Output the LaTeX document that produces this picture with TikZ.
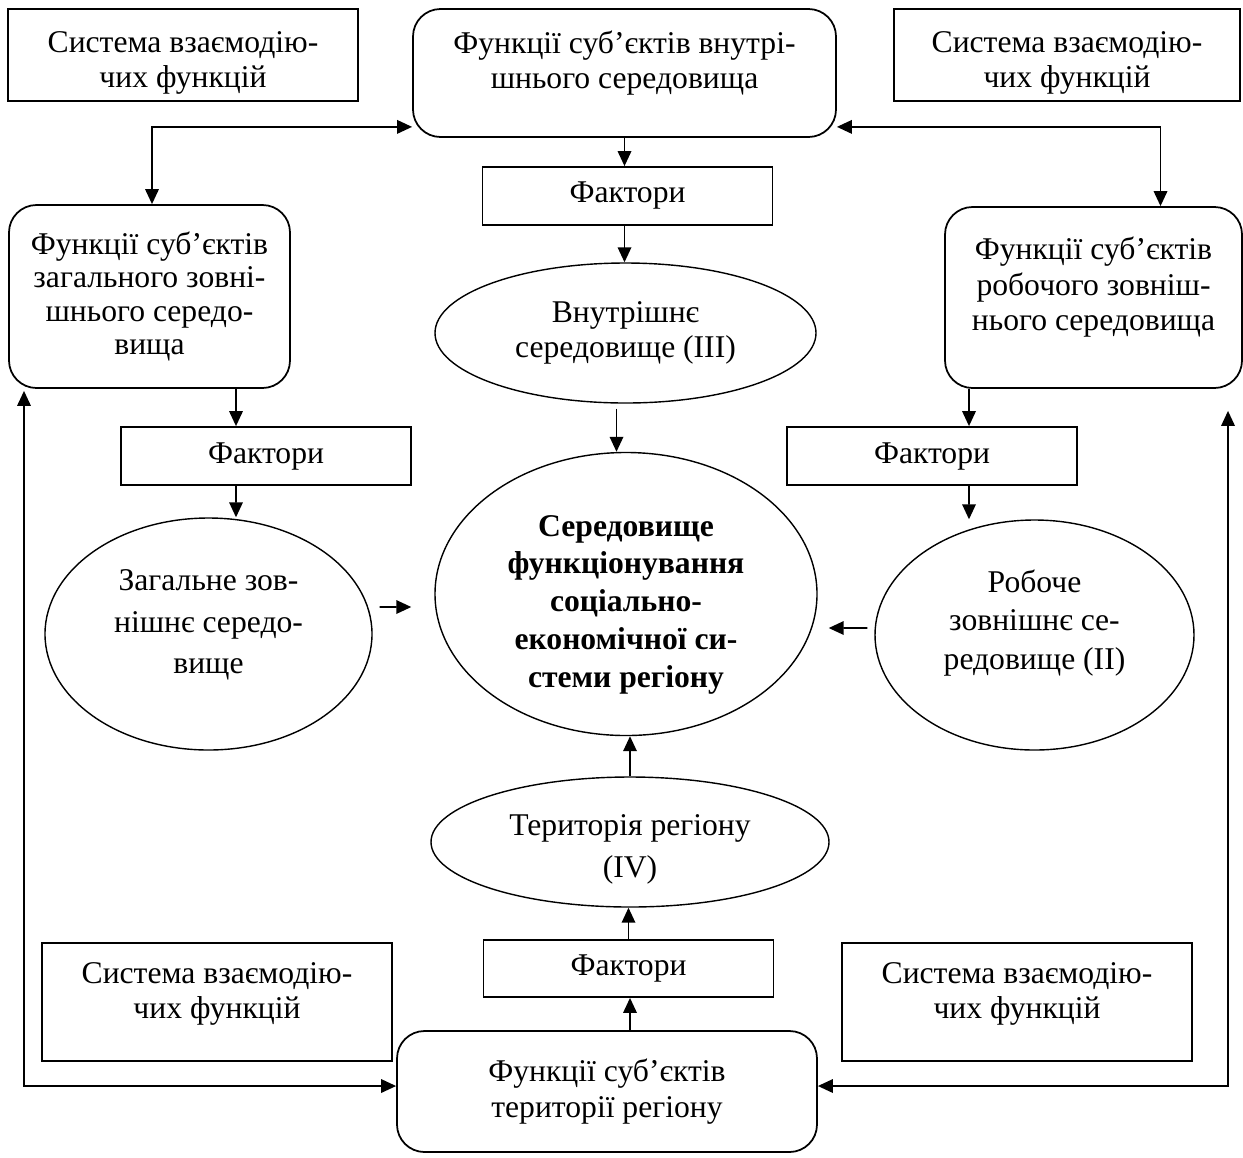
\documentclass[tikz,border=0pt]{standalone}
\usepackage{fontspec}
\setmainfont{Liberation Serif}
\usepackage{tikz}
\usetikzlibrary{shapes,arrows.meta,positioning}

\begin{document}
\begin{tikzpicture}[
    font=\fontsize{18}{20}\selectfont,
    sysbox/.style={
        rectangle,
        draw=black,
        line width=1pt,
        align=center,
        inner sep=2pt,
        minimum width=7cm,
        minimum height=1.84cm
    },
    funcbox/.style={
        rectangle,
        rounded corners=0.55cm,
        draw=black,
        line width=1pt,
        align=center,
        inner sep=2pt
    },
    factor/.style={
        rectangle,
        draw=black,
        line width=1pt,
        minimum width=5.8cm,
        minimum height=1.16cm
    },
    env/.style={
        ellipse,
        draw=black,
        line width=0.8pt,
        align=center,
        inner sep=0pt,
        font=\fontsize{18}{22}\selectfont
    },
    arrow/.style={
        line width=1pt,
        -{Triangle[length=0.3cm,width=0.27cm]}
    },
    biarrow/.style={
        line width=1pt,
        {Triangle[length=0.3cm,width=0.27cm]}-{Triangle[length=0.3cm,width=0.27cm]}
    }
]
\useasboundingbox (0,0) rectangle (24.86,-23.14);

% Системи взаємодіючих функцій
\node[sysbox, text height=41pt] (sysTL) at (3.66, -1.10) {Система взаємодію-\\чих функцій};
\node[sysbox, minimum width=6.92cm, text height=41pt] (sysTR) at (21.34, -1.10) {Система взаємодію-\\чих функцій};
\node[sysbox, minimum height=2.36cm, text depth=0.45cm] (sysBL) at (4.34, -20.04) {Система взаємодію-\\чих функцій};
\node[sysbox, minimum height=2.36cm, text depth=0.45cm] (sysBR) at (20.34, -20.04) {Система взаємодію-\\чих функцій};

% Функції суб'єктів
\node[funcbox, minimum width=8.46cm, minimum height=2.56cm, text depth=0.55cm] (fint) at (12.49, -1.46) {Функції суб’єктів внутрі-\\шнього середовища};
\node[funcbox, minimum width=5.62cm, minimum height=3.66cm, font=\fontsize{18}{19}\selectfont] (fgen) at (2.99, -5.93) {Функції суб’єктів\\загального зовні-\\шнього середо-\\вища};
\node[funcbox, minimum width=5.94cm, minimum height=3.62cm, text depth=0.55cm] (fwork) at (21.87, -5.95) {Функції суб’єктів\\робочого зовніш-\\нього середовища};
\node[funcbox, minimum width=8.40cm, minimum height=2.42cm] (fterr) at (12.14, -21.83) {Функції суб’єктів\\території регіону};

% Фактори
\node[factor] (factI) at (12.55, -3.92) {Фактори};
\node[factor] (factG) at (5.32, -9.12) {Фактори};
\node[factor] (factW) at (18.64, -9.12) {Фактори};
\node[factor, minimum height=1.14cm] (factT) at (12.57, -19.37) {Фактори};

% Середовища
\node[env, minimum width=7.62cm, minimum height=2.80cm, font=\fontsize{18}{20}\selectfont] (envI) at (12.51, -6.66) {Внутрішнє\\середовище (III)};
\node[env, minimum width=6.54cm, minimum height=4.64cm, font=\fontsize{18}{23.5}\selectfont, text depth=14pt] (envG) at (4.17, -12.68) {Загальне зов-\\нішнє середо-\\вище};
\node[env, minimum width=6.38cm, minimum height=4.60cm, text depth=17.5pt] (envW) at (20.69, -12.70) {Робоче\\зовнішнє се-\\редовище (II)};
\node[env, minimum width=7.96cm, minimum height=2.60cm, font=\fontsize{18}{24}\selectfont, text height=44pt] (envT) at (12.60, -16.84) {Територія регіону\\(IV)};
\node[env, minimum width=7.64cm, minimum height=5.56cm, font=\fontsize{18}{21.5}\selectfont\bfseries, text height=110pt] (core) at (12.52, -11.88) {Середовище\\функціонування\\соціально-\\економічної си-\\стеми регіону};

% Вертикальні стрілки
\draw[arrow] (fint.south) -- (fint.south |- factI.north);
\draw[arrow] (fint.south |- factI.south) -- (fint.south |- envI.north);
\draw[arrow] ([xshift=-0.18cm,yshift=-0.1cm]envI.south) -- ([xshift=-0.19cm]core.north);
\draw[arrow] ([xshift=1.73cm]fgen.south) -- ([xshift=-0.6cm]factG.north);
\draw[arrow] ([xshift=-0.6cm]factG.south) -- ([xshift=0.55cm]envG.north);
\draw[arrow] ([xshift=-2.49cm]fwork.south) -- ([xshift=0.74cm]factW.north);
\draw[arrow] ([xshift=0.74cm]factW.south) -- ([xshift=-1.31cm]envW.north);
\draw[arrow] ([xshift=0.46cm]fterr.north) -- ([xshift=0.03cm]factT.south);
\draw[arrow] (factT.north) -- (factT.north |- envT.south);
\draw[arrow] (envT.north) -- (envT.north |- core.south);

% Стрілки до центру
\draw[arrow] ([shift={(0.14,0.54)}]envG.east) -- ([shift={(-0.46,-0.26)}]core.west);
\draw[arrow] ([shift={(-0.14,0.14)}]envW.west) -- ([shift={(0.22,-0.68)}]core.east);

% Зв'язки між функціями
\draw[biarrow] ([yshift=0.22cm]fint.south west) -| ([xshift=0.05cm]fgen.north);
\draw[biarrow] ([yshift=0.22cm]fint.south east) -| ([xshift=1.34cm]fwork.north);
\draw[biarrow] ([yshift=0.11cm]fterr.west) -| ([xshift=-2.51cm,yshift=-0.04cm]fgen.south);
\draw[biarrow] ([yshift=0.11cm]fterr.east) -| ([xshift=2.69cm,yshift=-0.44cm]fwork.south);

\end{tikzpicture}
\end{document}
